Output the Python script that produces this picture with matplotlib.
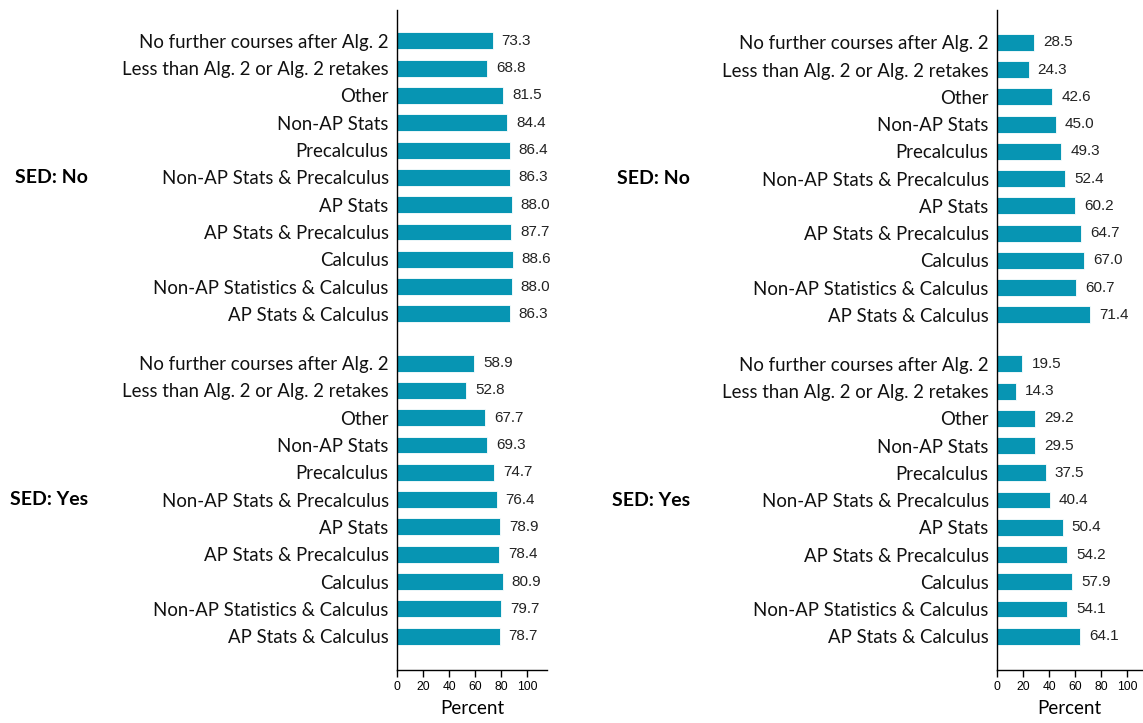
import matplotlib
matplotlib.use("Agg")
import matplotlib.pyplot as plt
import numpy as np

categories = ["No further courses after Alg. 2", "Less than Alg. 2 or Alg. 2 retakes",
              "Other", "Non-AP Stats", "Precalculus", "Non-AP Stats & Precalculus",
              "AP Stats", "AP Stats & Precalculus", "Calculus",
              "Non-AP Statistics & Calculus", "AP Stats & Calculus"]
groups = ["SED: No", "SED: Yes"]

left_no = [73.3, 68.8, 81.5, 84.4, 86.4, 86.3, 88.0, 87.7, 88.6, 88.0, 86.3]
left_yes = [58.9, 52.8, 67.7, 69.3, 74.7, 76.4, 78.9, 78.4, 80.9, 79.7, 78.7]
right_no = [28.5, 24.3, 42.6, 45.0, 49.3, 52.4, 60.2, 64.7, 67.0, 60.7, 71.4]
right_yes = [19.5, 14.3, 29.2, 29.5, 37.5, 40.4, 50.4, 54.2, 57.9, 54.1, 64.1]

xticks = [0, 20, 40, 60, 80, 100]
bar_color = "#0795b3"

W, H = 1143, 723
fig = plt.figure(figsize=(W / 100, H / 100), dpi=100)

n = len(categories)
gap = 1.8
pos_no = np.arange(n)
pos_yes = np.arange(n) + n - 1 + gap
ylim = (23.04, -1.13)


def panel(x0, x1, xmax, no_vals, yes_vals, sed_x, ytop, ydelta):
    ax = fig.add_axes([x0 / W, 1 - 670 / H, (x1 - x0) / W, (670 - ytop) / H])
    for pos, vals in ((pos_no, no_vals), (pos_yes, yes_vals)):
        ax.barh(pos, vals, height=0.62, color=bar_color, edgecolor="white", linewidth=0.6)
        for p, v in zip(pos, vals):
            ax.annotate(f"{v:.1f}", xy=(v, p), xytext=(6.5, 0), textcoords="offset points",
                        va="center", ha="left", fontsize=11,
                        family="Liberation Sans", color="#222222")
    ax.set_xlim(0, xmax)
    ax.set_ylim(ylim[0], ylim[1] + ydelta)
    ax.set_yticks(list(pos_no) + list(pos_yes))
    ax.set_yticklabels(categories * 2, fontsize=13.4, family="Lato", color="#111111")
    ax.tick_params(axis="y", length=0, pad=6)
    ax.set_xticks(xticks)
    ax.set_xticklabels([str(t) for t in xticks], fontsize=8.7, family="Liberation Sans")
    ax.tick_params(axis="x", length=5, width=1, pad=3)
    for s in ("top", "right"):
        ax.spines[s].set_visible(False)
    ax.spines["left"].set_linewidth(1)
    ax.spines["bottom"].set_linewidth(1)
    ax.set_xlabel("Percent", fontsize=13.5, family="Lato", labelpad=5)
    for g, pos in zip(groups, (pos_no, pos_yes)):
        ax.annotate(g, xy=(sed_x / W, 0), xycoords=("figure fraction", "data"),
                    xytext=(0, pos.mean()), textcoords=("offset points", "data"),
                    fontsize=14, fontweight="bold", family="Lato", va="center", ha="right")
    return ax


panel(397, 547, 115, left_no, left_yes, 88, 10, 0)
panel(997, 1142, 111.5, right_no, right_yes, 690, 10, -0.06)

fig.savefig("out.png", dpi=100)
